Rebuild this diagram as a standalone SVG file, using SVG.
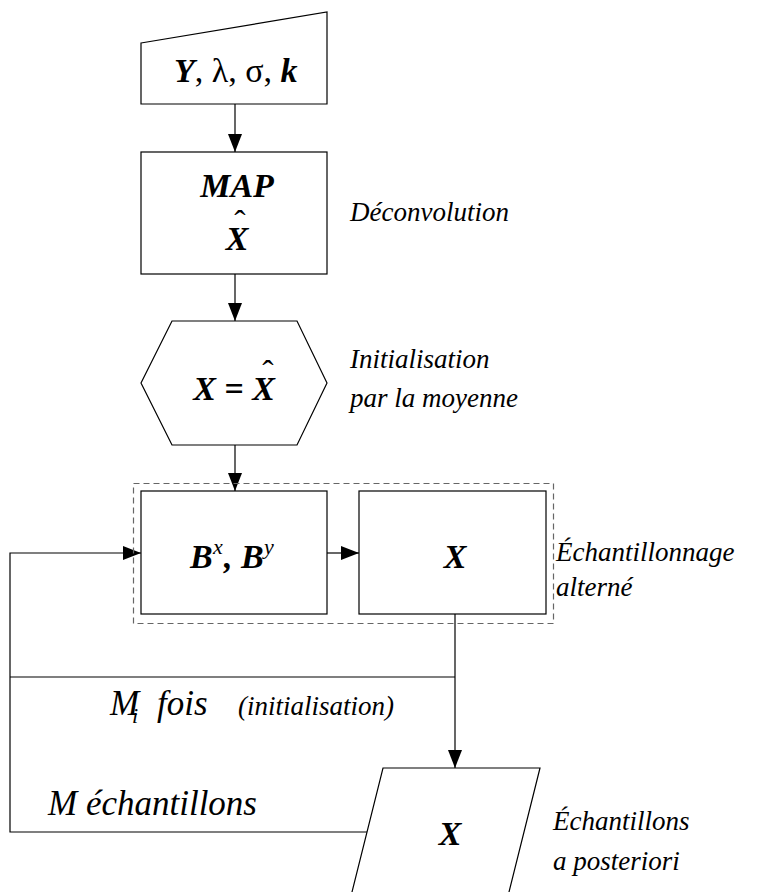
<svg xmlns="http://www.w3.org/2000/svg" width="764" height="892" viewBox="0 0 764 892">
<style>
.sh{fill:#fff;stroke:#000;stroke-width:1.2}
.ln{fill:none;stroke:#000;stroke-width:1.2}
text{font-family:"Liberation Serif","Times New Roman",serif;fill:#000}
.lb{font-style:italic;font-weight:bold;font-size:34px}
.rm{font-style:normal;font-weight:normal;font-size:34px}
.it{font-style:italic;font-weight:normal;font-size:27px}
.big{font-style:italic;font-weight:normal;font-size:35px}
.sup{font-style:italic;font-weight:normal;font-size:22px}
</style>
<defs>
<marker id="ah" markerUnits="userSpaceOnUse" markerWidth="18" markerHeight="14" refX="18" refY="7" orient="auto">
<path d="M0,0 L18,7 L0,14 Z" fill="#000"/>
</marker>
</defs>
<g id="connectors">
<line class="ln" x1="235" y1="104" x2="235" y2="152" marker-end="url(#ah)"/>
<line class="ln" x1="235" y1="274" x2="235" y2="321" marker-end="url(#ah)"/>
<line class="ln" x1="235" y1="445" x2="235" y2="491" marker-end="url(#ah)"/>
<line class="ln" x1="327" y1="553" x2="359" y2="553" marker-end="url(#ah)"/>
<line class="ln" x1="455" y1="614" x2="455" y2="768" marker-end="url(#ah)"/>
<line class="ln" x1="10" y1="677" x2="455" y2="677"/>
<polyline class="ln" points="367,832 10,832 10,553 141,553" marker-end="url(#ah)"/>
</g>
<g id="input">
<polygon class="sh" points="141,43 327,12 327,104 141,104"/>
<text x="174" y="82" class="lb" font-size="37">Y<tspan class="rm" font-size="37">, λ, σ,</tspan> k</text>
</g>
<g id="map">
<rect class="sh" x="141" y="152" width="186" height="122"/>
<text x="237" y="197" class="lb" text-anchor="middle">MAP</text>
<text x="237" y="250" class="lb" text-anchor="middle">X</text>
<text x="240" y="234" class="rm" font-size="24" text-anchor="middle">ˆ</text>
</g>
<text x="350" y="221" class="it">Déconvolution</text>
<g id="init">
<polygon class="sh" points="141,383 172,321 297,321 327,383 297,445 172,445"/>
<text x="234" y="400" class="lb" text-anchor="middle">X = X</text>
<text x="268" y="384" class="rm" font-size="24" text-anchor="middle">ˆ</text>
</g>
<text x="350" y="368" class="it">Initialisation</text>
<text x="350" y="407" class="it">par la moyenne</text>
<g id="group">
<rect x="133.5" y="483.5" width="420" height="140" fill="none" stroke="#666" stroke-width="1.2" stroke-dasharray="6,4"/>
</g>
<g id="bsample">
<rect class="sh" x="141" y="491" width="186" height="123"/>
<text x="190" y="568" class="lb">B</text>
<text x="213" y="554" class="sup">x</text>
<text x="224" y="568" class="lb">, B</text>
<text x="264" y="554" class="sup">y</text>
</g>
<g id="xsample">
<rect class="sh" x="359" y="491" width="187" height="123"/>
<text x="455" y="568" class="lb" text-anchor="middle">X</text>
</g>
<text x="556" y="561" class="it">Échantillonnage</text>
<text x="556" y="596" class="it">alterné</text>
<text x="110" y="715" class="big">M</text>
<text x="132" y="723" class="sup">i</text>
<text x="157" y="715" class="big">fois</text>
<text x="238" y="715" class="it" font-size="22">(initialisation)</text>
<text x="48" y="815" class="big">M échantillons</text>
<g id="output">
<polygon class="sh" points="383,768 540,768 507,900 350,900"/>
<text x="450" y="845" class="lb" text-anchor="middle">X</text>
</g>
<text x="553" y="830" class="it">Échantillons</text>
<text x="553" y="870" class="it">a posteriori</text>
</svg>
